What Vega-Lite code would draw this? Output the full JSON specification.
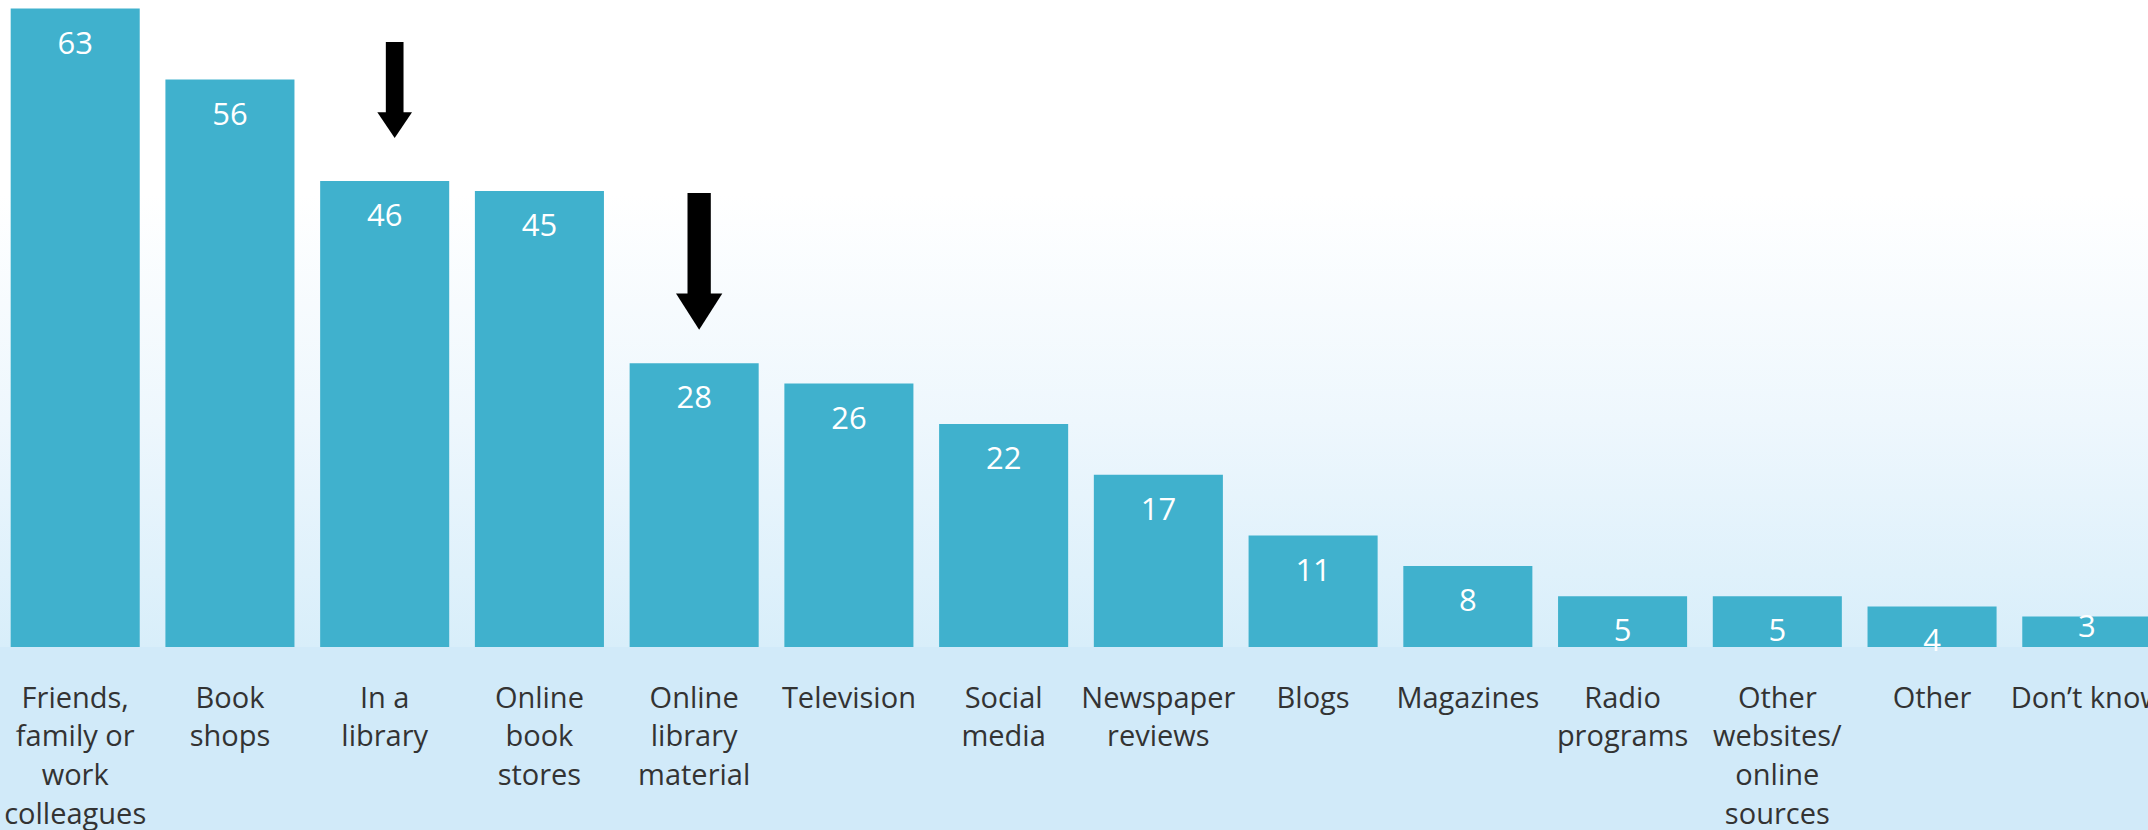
{
  "$schema": "https://vega.github.io/schema/vega-lite/v6.json",
  "width": 2162,
  "height": 647,
  "autosize": {"type": "none"},
  "padding": {"left": 0, "top": 0, "right": 0, "bottom": 183},
  "background": "#d1eaf9",
  "config": {
    "view": {
      "stroke": null,
      "fill": {
        "gradient": "linear",
        "x1": 0, "y1": 0, "x2": 0, "y2": 1,
        "stops": [
          {"offset": 0, "color": "#ffffff"},
          {"offset": 0.3, "color": "#ffffff"},
          {"offset": 0.65, "color": "#eef7fd"},
          {"offset": 1, "color": "#d8eefa"}
        ]
      }
    }
  },
  "data": {
    "values": [
      {"source": "Friends,\nfamily or\nwork\ncolleagues", "value": 63},
      {"source": "Book\nshops", "value": 56},
      {"source": "In a\nlibrary", "value": 46, "arrowTop": 59.7, "arrowBase": 52.5, "arrowHead": 51.5},
      {"source": "Online\nbook\nstores", "value": 45},
      {"source": "Online\nlibrary\nmaterial", "value": 28, "arrowTop": 44.8, "arrowBase": 34.6, "arrowHead": 33.1},
      {"source": "Television", "value": 26},
      {"source": "Social\nmedia", "value": 22},
      {"source": "Newspaper\nreviews", "value": 17},
      {"source": "Blogs", "value": 11},
      {"source": "Magazines", "value": 8},
      {"source": "Radio\nprograms", "value": 5},
      {"source": "Other\nwebsites/\nonline\nsources", "value": 5},
      {"source": "Other", "value": 4},
      {"source": "Don’t know", "value": 3}
    ]
  },
  "encoding": {
    "x": {
      "field": "source",
      "type": "nominal",
      "sort": null,
      "scale": {"paddingInner": 0.166, "paddingOuter": 0.069},
      "axis": {
        "title": null,
        "labelExpr": "split(datum.value, '\\n')",
        "labelAngle": 0,
        "labelAlign": "center",
        "labelBaseline": "top",
        "labelFont": "Open Sans",
        "labelFontSize": 29,
        "labelLineHeight": 38.7,
        "labelColor": "#333333",
        "labelPadding": 37,
        "labelLimit": 0,
        "labelOverlap": false,
        "labelBound": false,
        "ticks": false,
        "tickSize": 0,
        "domain": false,
        "grid": false
      }
    }
  },
  "layer": [
    {
      "mark": {"type": "bar", "color": "#40b1cd"},
      "encoding": {
        "y": {"field": "value", "type": "quantitative", "scale": {"domain": [0, 63.85], "nice": false, "zero": true}, "axis": null}
      }
    },
    {
      "transform": [{"filter": "datum.value > 3"}],
      "mark": {"type": "text", "color": "#ffffff", "font": "Open Sans", "fontSize": 31, "baseline": "alphabetic", "align": "center", "dy": 45},
      "encoding": {
        "y": {"field": "value", "type": "quantitative"},
        "text": {"field": "value", "type": "quantitative"}
      }
    },
    {
      "transform": [{"filter": "datum.value <= 3"}],
      "mark": {"type": "text", "color": "#ffffff", "font": "Open Sans", "fontSize": 31, "baseline": "alphabetic", "align": "center", "dy": 20},
      "encoding": {
        "y": {"field": "value", "type": "quantitative"},
        "text": {"field": "value", "type": "quantitative"}
      }
    },
    {
      "transform": [{"filter": "datum.arrowTop > 55"}],
      "mark": {"type": "rule", "color": "#000000", "strokeWidth": 17.7, "strokeCap": "butt", "xOffset": 10},
      "encoding": {
        "y": {"field": "arrowTop", "type": "quantitative"},
        "y2": {"field": "arrowBase"}
      }
    },
    {
      "transform": [{"filter": "datum.arrowTop > 55"}],
      "mark": {"type": "point", "shape": "M-1,-0.74L1,-0.74L0,0.74Z", "filled": true, "color": "#000000", "opacity": 1, "size": 1204, "xOffset": 10},
      "encoding": {
        "y": {"field": "arrowHead", "type": "quantitative"}
      }
    },
    {
      "transform": [{"filter": "datum.arrowTop > 40 && datum.arrowTop < 55"}],
      "mark": {"type": "rule", "color": "#000000", "strokeWidth": 23.3, "strokeCap": "butt", "xOffset": 5},
      "encoding": {
        "y": {"field": "arrowTop", "type": "quantitative"},
        "y2": {"field": "arrowBase"}
      }
    },
    {
      "transform": [{"filter": "datum.arrowTop > 40 && datum.arrowTop < 55"}],
      "mark": {"type": "point", "shape": "M-1,-0.78L1,-0.78L0,0.78Z", "filled": true, "color": "#000000", "opacity": 1, "size": 2144, "xOffset": 5},
      "encoding": {
        "y": {"field": "arrowHead", "type": "quantitative"}
      }
    }
  ]
}
